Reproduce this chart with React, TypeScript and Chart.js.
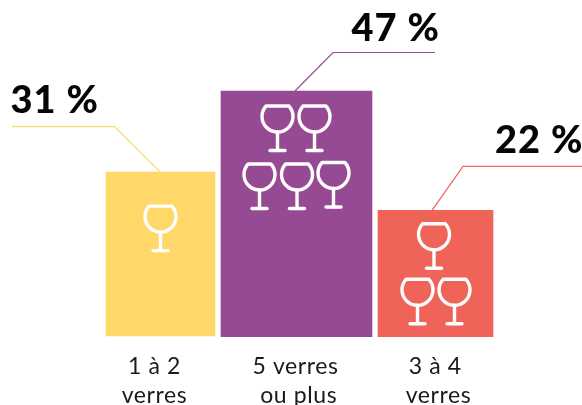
import React, { useEffect, useRef } from "react";
import { Chart, registerables } from "chart.js";

Chart.register(...registerables);

// Data
const categories: string[][] = [
  ["1 à 2", "verres"],
  ["5 verres", "\u00a0ou plus"],
  ["3 à 4\u00a0", "verres"],
];
const percentLabels = ["31 %", "47 %", "22 %"];
const barTops = [31.5, 47, 24.2];
const barBases = [0.2, 0, 0];
const glassCounts = [1, 5, 3];

// Variable-width bars: widths in x-axis units (axis spans the 582px canvas)
const barWidths = [109, 151, 115];
const firstBarStart = 106;
const barGap = 6;
const labelCentres = [154.5, 295.5, 438.5];

const colors = ["#FFD869", "#974A94", "#F06358"];
const yMax = 64.38;

// Style / layout constants for the decoration
const leaders = [
  { anchorDx: 0, elbowDx: -46, elbowDy: -45.5, endDx: -148.5 },
  { anchorDx: -1.5, elbowDx: 36.5, elbowDy: -38.5, endDx: 138.5 },
  { anchorDx: -3.5, elbowDx: 27.5, elbowDy: -44, endDx: 146.5 },
];
const labelOffsets = [
  { dx: -150, dy: -59 },
  { dx: 55, dy: -50 },
  { dx: 59.5, dy: -57 },
];
const glassOffsets = [
  [[0, 34]],
  [[-19, 15], [18, 15], [-37, 73], [0.5, 73], [37, 71.5]],
  [[-1.5, 13.5], [-18, 69], [19, 69]],
];

function barCentres(): number[] {
  let x = firstBarStart;
  return barWidths.map((w) => {
    const c = x + w / 2;
    x += w + barGap;
    return c;
  });
}

function drawGlass(ctx: CanvasRenderingContext2D, x: number, y: number) {
  ctx.save();
  ctx.translate(x, y);
  ctx.strokeStyle = "#ffffff";
  ctx.lineWidth = 3.4;
  ctx.lineCap = "round";
  ctx.lineJoin = "round";
  const r = 15.5;
  const cy = 10.5;
  const a = Math.asin(cy / r);
  ctx.beginPath();
  ctx.arc(0, cy, r, -a, Math.PI + a);
  ctx.closePath();
  ctx.stroke();
  ctx.beginPath();
  ctx.moveTo(0, cy + r);
  ctx.lineTo(0, 44.5);
  ctx.stroke();
  ctx.beginPath();
  ctx.moveTo(-7.5, 44.5);
  ctx.lineTo(7.5, 44.5);
  ctx.stroke();
  ctx.restore();
}

const decorations = {
  id: "decorations",
  beforeDraw(chart: any) {
    chart.ctx.letterSpacing = "0.6px";
  },
  afterDatasetsDraw(chart: any) {
    const ctx: CanvasRenderingContext2D = chart.ctx;
    const xs = chart.scales.x;
    const ys = chart.scales.y;
    const centres = barCentres();
    centres.forEach((c, i) => {
      const px = xs.getPixelForValue(c);
      const top = ys.getPixelForValue(barTops[i]);
      const l = leaders[i];
      ctx.save();
      ctx.strokeStyle = colors[i];
      ctx.lineWidth = 1.2;
      ctx.beginPath();
      ctx.moveTo(px + l.anchorDx, top);
      ctx.lineTo(px + l.elbowDx, top + l.elbowDy);
      ctx.lineTo(px + l.endDx, top + l.elbowDy);
      ctx.stroke();
      ctx.fillStyle = "#050505";
      ctx.font = "900 38px Lato";
      ctx.letterSpacing = "1px";
      ctx.textAlign = "left";
      ctx.textBaseline = "alphabetic";
      const o = labelOffsets[i];
      ctx.fillText(percentLabels[i], px + o.dx, top + o.dy);
      ctx.restore();
      glassOffsets[i].slice(0, glassCounts[i]).forEach(([dx, dy]) => {
        drawGlass(ctx, px + dx, top + dy);
      });
    });
  },
};

export default function App() {
  const ref = useRef<HTMLCanvasElement>(null);
  useEffect(() => {
    const centres = barCentres();
    const chart = new Chart(ref.current!, {
      type: "bar",
      data: {
        datasets: barTops.map((v, i) => ({
          label: categories[i].join(" "),
          data: [{ x: centres[i], y: [barBases[i], v] }],
          backgroundColor: colors[i],
          borderWidth: 0,
          barThickness: barWidths[i],
        })),
      } as any,
      options: {
        animation: false,
        responsive: false,
        layout: { padding: 0, autoPadding: false },
        plugins: { legend: { display: false }, tooltip: { enabled: false } },
        scales: {
          x: {
            type: "linear",
            offset: false,
            stacked: true,
            min: 0,
            max: 582,
            grid: { display: false },
            border: { display: false },
            afterBuildTicks(axis: any) {
              axis.ticks = labelCentres.map((value) => ({ value }));
            },
            afterFit(axis: any) {
              axis.height = 68;
            },
            ticks: {
              autoSkip: false,
              maxRotation: 0,
              minRotation: 0,
              padding: 8,
              color: "#1a1a1a",
              font: { family: "Lato", size: 23, lineHeight: 1.22 },
              callback: (_v: any, i: number) => categories[i],
            },
          },
          y: { display: false, min: 0, max: yMax },
        },
      } as any,
      plugins: [decorations],
    });
    return () => chart.destroy();
  }, []);
  return (
    <div style={{ position: "fixed", left: 0, top: 0, width: 582, height: 405, background: "#fff" }}>
      <canvas ref={ref} width={582} height={405} style={{ display: "block" }} />
    </div>
  );
}
